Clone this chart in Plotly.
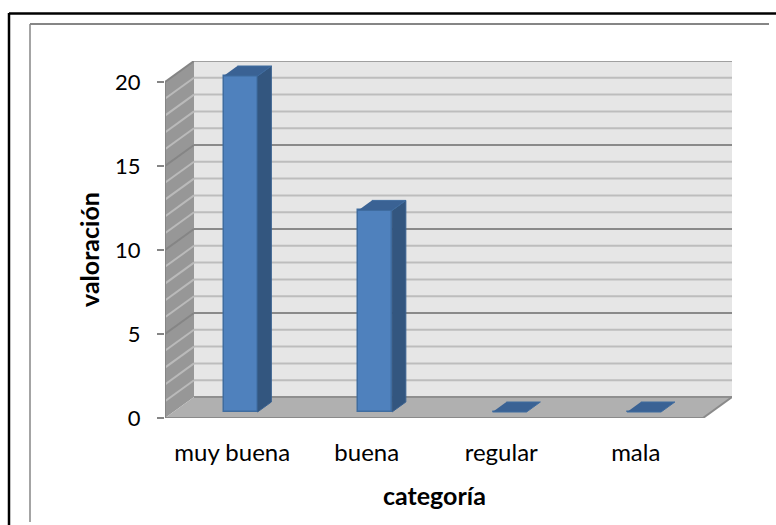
import plotly.graph_objects as go

categories = ["muy buena", "buena", "regular", "mala"]
values = [20, 12, 0, 0]
y_ticks = [0, 5, 10, 15, 20]
minor_levels = [v for v in range(0, 21)]
x_title = "categoría"
y_title = "valoración"

W, H = 776, 525
L, R, T, B = 165, 732, 61, 418
CAT_PX = 134.5
VAL_PX = 16.8
DEPTH_PX_X = 29.0
DEPTH_PX_Y = 21.0
DX = DEPTH_PX_X / CAT_PX
DY = DEPTH_PX_Y / VAL_PX
XMIN = -0.5
XMAX = XMIN + (R - L) / CAT_PX
YMAX = (B - T) / VAL_PX
XFRONT = 3.5
BAR_W = 34 / CAT_PX
D1, D2 = 6 / 21, 16 / 21


def pr(x, v, d):
    return x + d * DX, v + d * DY


def poly(pts, fill, layer="below", line=None):
    path = "M " + " L ".join(f"{a},{b}" for a, b in pts) + " Z"
    return dict(type="path", path=path, xref="x", yref="y", fillcolor=fill, layer=layer,
                line=dict(width=0) if line is None else line)


def seg(p, q, color, width):
    return dict(type="line", xref="x", yref="y", x0=p[0], y0=p[1], x1=q[0], y1=q[1],
                layer="below", line=dict(color=color, width=width))


def px_x(px):
    return (px - L) / (R - L)


def px_y(py):
    return (B - py) / (B - T)


shapes = []
# back wall, side wall, floor
shapes.append(poly([pr(XMIN, 0, 1), pr(XFRONT, 0, 1), pr(XFRONT, 20, 1), pr(XMIN, 20, 1)], "#E6E6E6"))
shapes.append(poly([pr(XMIN, 0, 0), pr(XMIN, 0, 1), pr(XMIN, 20, 1), pr(XMIN, 20, 0)], "#979797"))
shapes.append(poly([pr(XMIN, 0, 0), pr(XFRONT, 0, 0), pr(XFRONT, 0, 1), pr(XMIN, 0, 1)], "#B0B0B0"))
for lv in minor_levels:
    major = lv % 5 == 0
    if lv > 0:
        shapes.append(seg(pr(XMIN, lv, 1), pr(XFRONT, lv, 1), "#8A8A8A" if major else "#BDBDBD", 2))
        shapes.append(seg(pr(XMIN, lv, 0), pr(XMIN, lv, 1), "#858585" if major else "#BABABA", 2))
shapes.append(seg(pr(XMIN, 0, 1), pr(XFRONT, 0, 1), "#8F8F8F", 2))
shapes.append(seg(pr(XMIN, 0, 0), pr(XFRONT, 0, 0), "#8A8A8A", 2))
shapes.append(seg(pr(XFRONT, 0, 0), pr(XFRONT, 0, 1), "#8A8A8A", 2))
shapes.append(seg(pr(XMIN, 0, 0), pr(XMIN, 20, 0), "#858585", 2))
shapes.append(seg(pr(XMIN, 20, 1), pr(XFRONT, 20, 1), "#A0A0A0", 2))

# outer frames of the document
for x0, y0, x1, y1, c, w in [
    (9, 13.5, 776, 13.5, "#000000", 2.5),
    (9, 13, 9, 525, "#000000", 2.5),
    (30, 24, 769, 24, "#868686", 2),
    (30, 24, 30, 522, "#868686", 1.5),
]:
    shapes.append(dict(type="line", xref="paper", yref="paper",
                       x0=px_x(x0), x1=px_x(x1), y0=px_y(y0), y1=px_y(y1),
                       line=dict(color=c, width=w)))

fig = go.Figure()
xs = list(range(len(categories)))
fig.add_trace(go.Bar(
    x=[i + D1 * DX for i in xs], y=values, base=[D1 * DY] * len(values), width=BAR_W,
    marker=dict(color="#4F81BD", line=dict(color="#3F6C9F", width=1.5)),
    showlegend=False, hoverinfo="skip", cliponaxis=False,
))
for i, v in zip(xs, values):
    a = i - BAR_W / 2
    b = i + BAR_W / 2
    if v > 0:
        pts = [pr(b, 0, D1), pr(b, 0, D2), pr(b, v, D2), pr(b, v, D1)]
        fig.add_trace(go.Scatter(x=[p[0] for p in pts], y=[p[1] for p in pts], fill="toself",
                                 mode="lines", line=dict(color="#3A6291", width=1),
                                 fillcolor="#33567F", showlegend=False, hoverinfo="skip"))
    pts = [pr(a, v, D1), pr(b, v, D1), pr(b, v, D2), pr(a, v, D2)]
    fig.add_trace(go.Scatter(x=[p[0] for p in pts], y=[p[1] for p in pts], fill="toself",
                             mode="lines", line=dict(color="#3F6C9F", width=1),
                             fillcolor="#3A6294", showlegend=False, hoverinfo="skip"))

annotations = [
    dict(text=f"<b>{x_title}</b>", xref="paper", yref="paper", x=px_x(434), y=px_y(495),
         xanchor="center", yanchor="middle", showarrow=False, font=dict(size=25)),
    dict(text=f"<b>{y_title}</b>", xref="paper", yref="paper", x=px_x(89), y=px_y(250),
         xanchor="center", yanchor="middle", textangle=-90, showarrow=False, font=dict(size=25)),
]

fig.update_layout(
    width=W, height=H, autosize=False,
    margin=dict(l=L, r=W - R, t=T, b=H - B, pad=0),
    paper_bgcolor="white", plot_bgcolor="white",
    font=dict(family="Lato", size=24, color="#000000"),
    shapes=shapes, annotations=annotations, bargap=0,
    xaxis=dict(range=[XMIN, XMAX], tickmode="array", tickvals=xs, ticktext=categories,
               showgrid=False, zeroline=False, showline=False, ticks="outside", ticklen=13,
               tickcolor="rgba(0,0,0,0)", fixedrange=True, tickfont=dict(size=24)),
    yaxis=dict(range=[0, YMAX], tickmode="array", tickvals=y_ticks, showgrid=False, zeroline=False,
               showline=False, ticks="outside", ticklen=7, tickcolor="#858585", tickwidth=2,
               fixedrange=True, tickfont=dict(size=22), ticklabelstandoff=12),
)
fig.write_html("out.html", config=dict(displayModeBar=False),
               post_script="document.body.style.margin='0';")
